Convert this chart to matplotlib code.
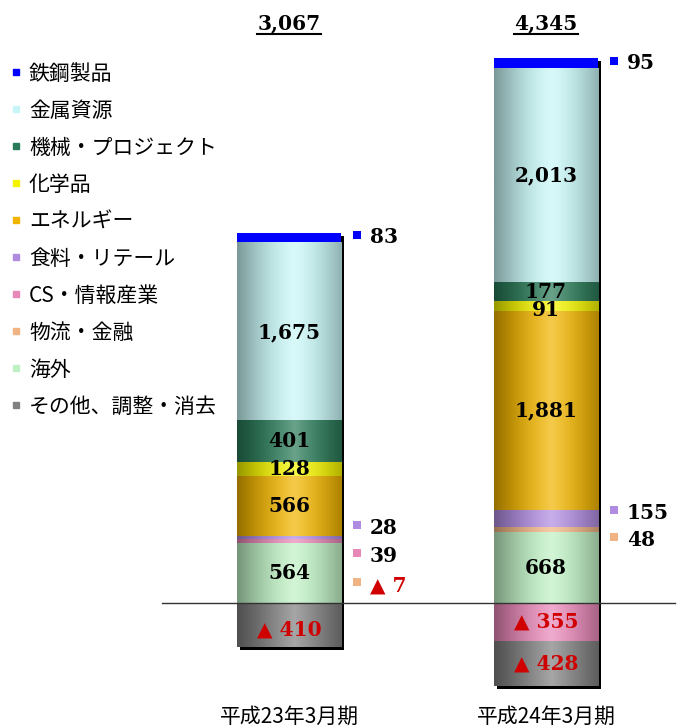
import numpy as np
import matplotlib
matplotlib.use('Agg')
import matplotlib.pyplot as plt
from matplotlib.lines import Line2D
import matplotlib.transforms as mtransforms

# data
periods = ['平成23年3月期', '平成24年3月期']
segments = ['鉄鋼製品', '金属資源', '機械・プロジェクト', '化学品', 'エネルギー',
            '食料・リテール', 'CS・情報産業', '物流・金融', '海外', 'その他、調整・消去']
fy2011 = [83, 1675, 401, 128, 566, 28, 39, -7, 564, -410]
fy2012 = [95, 2013, 177, 91, 1881, 155, -355, 48, 668, -428]
colors = ['#0000ff', '#c8f6f6', '#2a7a58', '#f4f400', '#f0b400',
          '#b08ce0', '#e888b8', '#f0b484', '#bff0c4', '#808080']

values = [fy2011, fy2012]

# labels drawn beside the bar: (bar, segment) -> label y
outside = {(0, 0): None, (0, 5): 706, (0, 6): 442, (0, 7): 169,
           (1, 0): None, (1, 5): 847, (1, 7): 593}
# small nudges for crowded labels inside the bar
nudge = {(1, 3): -40, (0, 1): -20, (0, 9): -40}

num_font = ['DejaVu Serif', 'DejaVu Sans']
jp_font = ['Noto Sans CJK JP', 'DejaVu Sans']

fig = plt.figure(figsize=(6.83, 7.28), dpi=100)
ax = fig.add_axes([0, 0, 1, 1])
ax.axis('off')

width = 0.405
x = np.arange(len(periods))


def shade_image(color, n=80):
    """horizontal cylinder-like shading for one bar segment"""
    base = np.array(matplotlib.colors.to_rgb(color))
    t = np.linspace(0, 1, n)
    d = np.abs(t - 0.55) / 0.55
    dark = 1 - 0.38 * d ** 1.5
    light = 0.3 * np.clip(1 - d, 0, 1) ** 2
    img = base[None, :] * dark[:, None] + light[:, None] * (1 - base[None, :] * dark[:, None])
    return np.clip(img, 0, 1)[None, :, :]


for i, vals in enumerate(values):
    pos_bottom = 0
    neg_bottom = 0
    segs = []
    # positives stacked from the bottom in reverse legend order
    for j in reversed(range(len(segments))):
        v = vals[j]
        if v > 0:
            segs.append((j, pos_bottom, v))
            pos_bottom += v
    # negatives stacked downward in legend order
    for j in range(len(segments)):
        v = vals[j]
        if v < 0:
            segs.append((j, neg_bottom, v))
            neg_bottom += v

    # shadow
    ax.bar(x[i] + 0.012, pos_bottom - neg_bottom, bottom=neg_bottom - 28,
           width=width, color='black', zorder=1)

    for j, b, v in segs:
        bar = ax.bar(x[i], v, bottom=b, width=width, color=colors[j], zorder=2)[0]
        if j != 0:
            im = ax.imshow(shade_image(colors[j]), aspect='auto', zorder=3,
                           extent=[x[i] - width / 2, x[i] + width / 2, b, b + v])
            im.set_clip_path(bar)
        mid = b + v / 2
        txt = f'{abs(v):,}'
        if v < 0:
            txt = '▲ ' + txt
        tcol = '#d00000' if v < 0 else 'black'
        if (i, j) in outside:
            ly = outside[(i, j)] if outside[(i, j)] is not None else mid
            ax.scatter(x[i] + 0.265, ly + 25, marker='s', s=38, color=colors[j],
                       zorder=4, linewidths=0)
            ax.text(x[i] + 0.315, ly, txt, ha='left', va='center', fontsize=14.5,
                    fontweight='bold', color=tcol, family=num_font, zorder=5)
        else:
            ax.text(x[i], mid + nudge.get((i, j), 0), txt, ha='center', va='center',
                    fontsize=14.5, fontweight='bold', color=tcol, family=num_font,
                    zorder=5)

ax.set_xlim(-1.1245, 1.533)
ax.set_ylim(-1176.6, 5675.8)

# zero line
ax.axhline(0, xmin=0.237, xmax=0.988, color='#333333', lw=1, zorder=6)

# totals and period labels
trans = mtransforms.blended_transform_factory(ax.transData, ax.transAxes)
total_texts = []
for i, vals in enumerate(values):
    t = ax.text(x[i], 0.968, f'{sum(vals):,}', transform=trans, ha='center',
                va='center', fontsize=14.5, fontweight='bold', family=num_font)
    total_texts.append(t)
    ax.text(x[i], 0.016, periods[i], transform=trans, ha='center', va='center',
            fontsize=15, family=jp_font)

# legend
handles = [Line2D([], [], marker='s', linestyle='', markersize=5, color=c) for c in colors]
ax.legend(handles, segments, loc='upper left', bbox_to_anchor=(0.015, 0.914),
          frameon=False, prop={'family': jp_font, 'size': 15}, handlelength=0.6,
          handletextpad=0.3, labelspacing=0.72, borderpad=0, borderaxespad=0)

# underline the totals
fig.canvas.draw()
for t in total_texts:
    bb = t.get_window_extent()
    fig.add_artist(Line2D([bb.x0 / fig.bbox.width, bb.x1 / fig.bbox.width],
                          [(bb.y0 - 1) / fig.bbox.height] * 2, color='black', lw=1.5))

fig.savefig('out.png', dpi=100)
